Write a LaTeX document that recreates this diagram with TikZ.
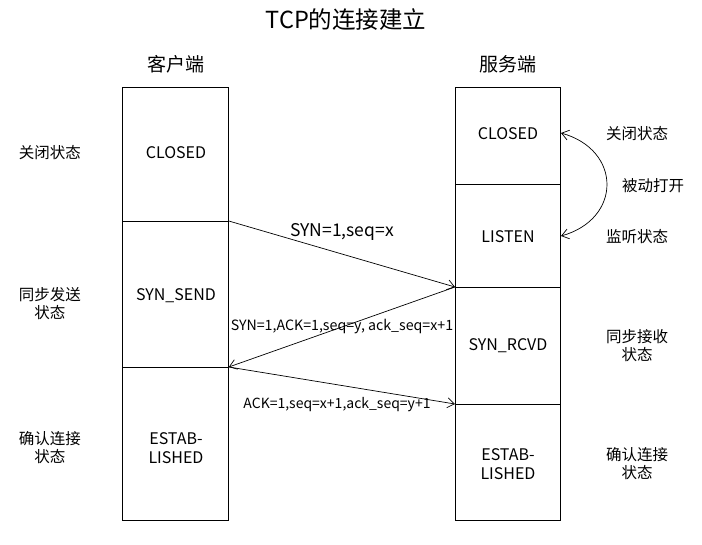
\documentclass[tikz,border=0pt]{standalone}
\usepackage{fontspec}
\setmainfont{Noto Sans CJK SC}
\usetikzlibrary{arrows.meta}
\begin{document}
\begin{tikzpicture}[x=1pt,y=-1pt,
  box/.style={draw, line width=0.8pt, minimum width=106pt, inner sep=0pt, anchor=north west},
  st/.style={font=\fontsize{16}{19}\selectfont, align=center},
  lab/.style={font=\fontsize{15.5}{18}\selectfont, align=center},
  msg/.style={font=\fontsize{14.2}{16}\selectfont},
  arr/.style={draw, line width=0.7pt, -{Straight Barb[length=7pt,width=10pt,line width=0.7pt]}}
]
\useasboundingbox (0,0) rectangle (702,544);
% title
\node[font=\fontsize{23.5}{28}\selectfont] (title) at (346,20) {TCP的连接建立};
\node[font=\fontsize{19}{22}\selectfont] (client) at (176,64) {客户端};
\node[font=\fontsize{19}{22}\selectfont] (server) at (508,64) {服务端};
% client boxes
\node[box, minimum height=134pt] (cclosed) at (122,87) {};
\node[box, minimum height=146pt] (csyn) at (122,221) {};
\node[box, minimum height=153pt] (cest) at (122,367) {};
\node[st] (tcclosed) at (176,153) {CLOSED};
\node[st] (tcsyn) at (176,296) {SYN\_SEND};
\node[st] (tcest) at (176,448) {ESTAB-\\LISHED};
% server boxes
\node[box, minimum width=105pt, minimum height=97pt] (sclosed) at (455,87) {};
\node[box, minimum width=105pt, minimum height=103pt] (slisten) at (455,184) {};
\node[box, minimum width=105pt, minimum height=117pt] (srcvd) at (455,287) {};
\node[box, minimum width=105pt, minimum height=116pt] (sest) at (455,404) {};
\node[st] (tsclosed) at (508,134) {CLOSED};
\node[st] (tslisten) at (508,237) {LISTEN};
\node[st] (tsrcvd) at (508,346) {SYN\_RCVD};
\node[st] (tsest) at (508,464) {ESTAB-\\LISHED};
% left labels
\node[lab] (l1) at (50,153) {关闭状态};
\node[lab] (l2) at (50,304) {同步发送\\状态};
\node[lab] (l3) at (50,448) {确认连接\\状态};
% right labels
\node[lab] (r1) at (637,134) {关闭状态};
\node[lab] (r2) at (653,186) {被动打开};
\node[lab] (r3) at (637,237) {监听状态};
\node[lab] (r4) at (637,346) {同步接收\\状态};
\node[lab] (r5) at (637,464) {确认连接\\状态};
% messages
\draw[arr] (csyn.north east) -- (srcvd.north west);
\draw[arr] (srcvd.north west) -- (cest.north east);
\draw[arr] (cest.north east) -- (sest.north west);
\node[font=\fontsize{17.5}{20}\selectfont] (m1) at (342,232) {SYN=1,seq=x};
\node[msg] (m2) at (342,327) {SYN=1,ACK=1,seq=y, ack\_seq=x+1};
\node[msg, font=\fontsize{14}{16}\selectfont] (m3) at (337,405) {ACK=1,seq=x+1,ack\_seq=y+1};
% passive open arc
\coordinate (a1) at (561,133);
\coordinate (a2) at (561,236);
\draw[line width=0.7pt, {Straight Barb[length=7pt,width=10pt,line width=0.7pt]}-{Straight Barb[length=7pt,width=10pt,line width=0.7pt]}] (a1) .. controls (622,150) and (622,219) .. (a2);
\end{tikzpicture}
\end{document}
